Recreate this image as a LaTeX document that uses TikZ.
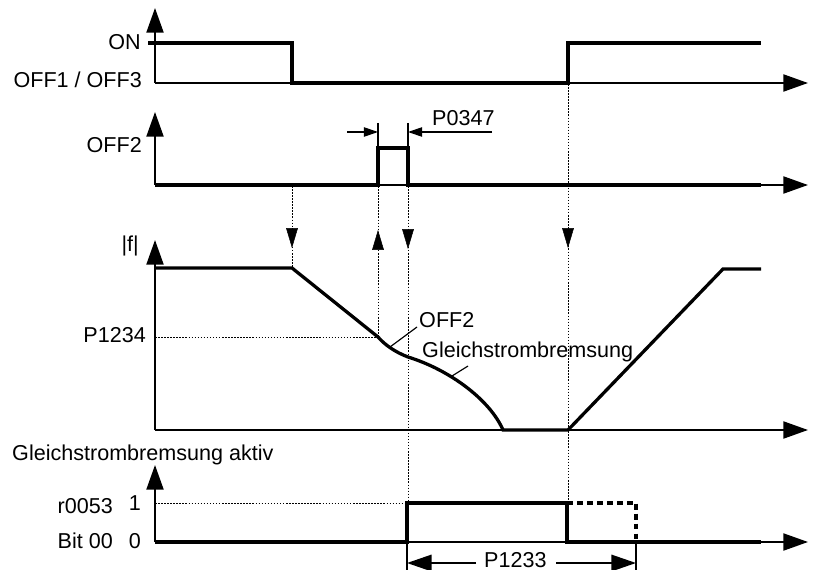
\documentclass[tikz,border=0pt]{standalone}
\usepackage{fontspec}
\setmainfont{Liberation Sans}
\usetikzlibrary{arrows.meta}

\begin{document}
\begin{tikzpicture}[x=0.03cm,y=-0.03cm,line join=miter,
  axis/.style={line width=1.7pt,-{Triangle[length=21pt,width=14.5pt]}},
  signal/.style={line width=2.8pt},
  guide/.style={line width=0.8pt,dash pattern=on 1.3pt off 1.3pt},
  guidetip/.style={-{Triangle[length=17pt,width=10pt]}},
  dimline/.style={line width=1pt,-{Triangle[length=12pt,width=8pt]}},
  bigdim/.style={line width=1.7pt,-{Triangle[length=21pt,width=14pt]}},
  lbl/.style={font=\fontsize{18.4}{22}\selectfont,inner sep=0pt}]
  \useasboundingbox (0,0) rectangle (821,570);
  \draw[axis] (155,83)--(155,8); \draw[axis] (155,83)--(808,83);
  \draw[axis] (155,185)--(155,112); \draw[axis] (155,185)--(808,185);
  \draw[axis] (155,430)--(155,240); \draw[axis] (155,430)--(808,430);
  \draw[axis] (155,542)--(155,465); \draw[axis] (155,542)--(808,542);
  \draw[guide] (292,186)--(292,268); \draw[guide] (378,186)--(378,337); \draw[guide] (408,186)--(408,542); \draw[guide] (568,84)--(568,503);
  \draw[guide] (155,337)--(378,337); \draw[guide] (155,503)--(407,503);
  \draw[guidetip] (292,229)--(292,248); \draw[guidetip] (378,250)--(378,230); \draw[guidetip] (408,230)--(408,249); \draw[guidetip] (568,229)--(568,248);
  \draw[signal] (148,43)--(292,43)--(292,83)--(568,83)--(568,43)--(761,43);
  \draw[signal] (155,185)--(378,185)--(378,148)--(408,148)--(408,185)--(761,185);
  \draw[signal] (155,268)--(292,268)--(378,337) .. controls (385,345) and (395,352) .. (408,357) .. controls (450,370) and (490,400) .. (503,430)--(568,430)--(723,269)--(761,269);
  \draw[signal] (155,542)--(407,542)--(407,503)--(567,503)--(567,542)--(761,542);
  \draw[signal,dash pattern=on 5pt off 3.5pt] (567,503)--(636,503)--(636,542);
  \draw[line width=1pt] (378,123)--(378,148) (408,123)--(408,148);
  \draw[dimline] (347,132)--(378,132); \draw[dimline] (492,132)--(408,132);
  \draw[line width=1pt] (407,542)--(407,572) (636,542)--(636,572);
  \draw[bigdim] (476,563)--(407,563); \draw[bigdim] (556,563)--(636,563);
  \node[lbl,anchor=base east] (on) at (141,50) {ON};
  \node[lbl,anchor=base east] (off13) at (142,88) {OFF1 / OFF3};
  \node[lbl,anchor=base east] (off2) at (142,153) {OFF2};
  \node[lbl,anchor=base west] (p0347) at (432,126) {P0347};
  \node[lbl,anchor=base east] (freq) at (139,252) {|f|};
  \node[lbl,anchor=base east] (p1234) at (146,342) {P1234};
  \node[lbl,anchor=base west] (off2curve) at (419,327) {OFF2};
  \node[lbl,anchor=base west] (dcbrake) at (422,357) {Gleichstrombremsung};
  \node[lbl,anchor=base west] (dcactive) at (12,460) {Gleichstrombremsung aktiv};
  \node[lbl,anchor=base east] (r0053) at (113,513) {r0053};
  \node[lbl,anchor=base east] (one) at (141,510) {1};
  \node[lbl,anchor=base east] (bit00) at (113,548) {Bit 00};
  \node[lbl,anchor=base east] (zero) at (141,548) {0};
  \node[lbl,anchor=base west] (p1233) at (484,567) {P1233};
  \coordinate (off2pt) at (390,347); \coordinate (dcpt) at (452,376);
  \draw[line width=1pt] (417,327)--(off2pt); \draw[line width=1pt] (468,366)--(dcpt);
\end{tikzpicture}
\end{document}
